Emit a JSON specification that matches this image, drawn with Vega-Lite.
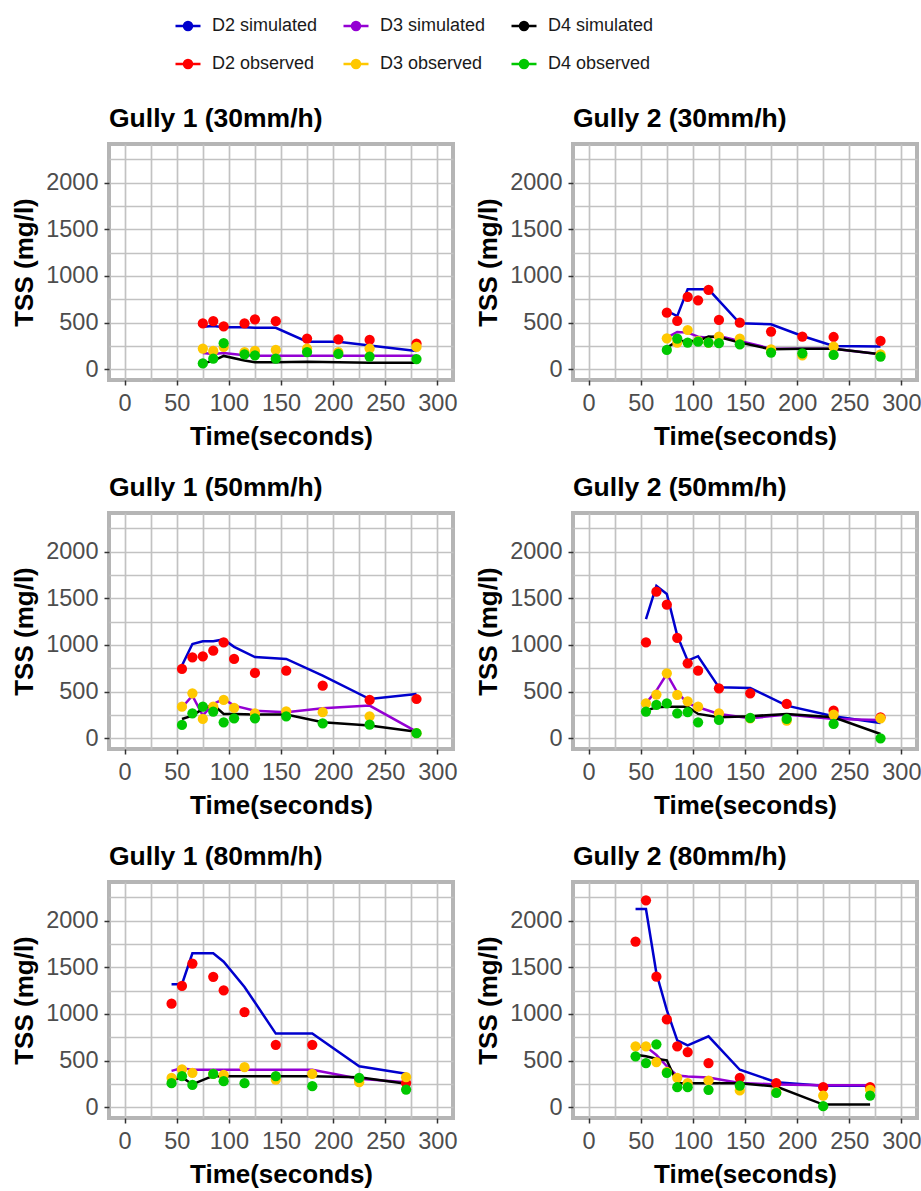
{
  "$schema": "https://vega.github.io/schema/vega-lite/v6.json",
  "background": "white",
  "padding": {"left": 9, "top": 12, "right": 5, "bottom": 5},
  "data": {"values": [
    {"p":"Gully 1 (30mm/h)","t":75,"D2 simulated":455,"D2 observed":492,"D3 simulated":175,"D3 observed":222,"D4 simulated":65,"D4 observed":62},
    {"p":"Gully 1 (30mm/h)","t":85,"D2 simulated":465,"D2 observed":517,"D3 simulated":165,"D3 observed":196,"D4 simulated":90,"D4 observed":114},
    {"p":"Gully 1 (30mm/h)","t":95,"D2 simulated":450,"D2 observed":460,"D3 simulated":175,"D3 observed":240,"D4 simulated":143,"D4 observed":280},
    {"p":"Gully 1 (30mm/h)","t":115,"D2 simulated":450,"D2 observed":492,"D3 simulated":150,"D3 observed":185,"D4 simulated":95,"D4 observed":161},
    {"p":"Gully 1 (30mm/h)","t":125,"D2 simulated":445,"D2 observed":535,"D3 simulated":145,"D3 observed":196,"D4 simulated":75,"D4 observed":150},
    {"p":"Gully 1 (30mm/h)","t":145,"D2 simulated":445,"D2 observed":515,"D3 simulated":145,"D3 observed":207,"D4 simulated":75,"D4 observed":114},
    {"p":"Gully 1 (30mm/h)","t":175,"D2 simulated":295,"D2 observed":329,"D3 simulated":145,"D3 observed":222,"D4 simulated":80,"D4 observed":185},
    {"p":"Gully 1 (30mm/h)","t":205,"D2 simulated":295,"D2 observed":321,"D3 simulated":145,"D3 observed":185,"D4 simulated":75,"D4 observed":165},
    {"p":"Gully 1 (30mm/h)","t":235,"D2 simulated":255,"D2 observed":314,"D3 simulated":145,"D3 observed":222,"D4 simulated":70,"D4 observed":136},
    {"p":"Gully 1 (30mm/h)","t":280,"D2 simulated":196,"D2 observed":275,"D3 simulated":145,"D3 observed":240,"D4 simulated":70,"D4 observed":110},

    {"p":"Gully 2 (30mm/h)","t":75,"D2 simulated":625,"D2 observed":607,"D3 simulated":339,"D3 observed":332,"D4 simulated":230,"D4 observed":207},
    {"p":"Gully 2 (30mm/h)","t":85,"D2 simulated":570,"D2 observed":518,"D3 simulated":400,"D3 observed":286,"D4 simulated":304,"D4 observed":329},
    {"p":"Gully 2 (30mm/h)","t":95,"D2 simulated":857,"D2 observed":775,"D3 simulated":393,"D3 observed":421,"D4 simulated":304,"D4 observed":286},
    {"p":"Gully 2 (30mm/h)","t":105,"D2 simulated":857,"D2 observed":739,"D3 simulated":350,"D3 observed":304,"D4 simulated":304,"D4 observed":296},
    {"p":"Gully 2 (30mm/h)","t":115,"D2 simulated":857,"D2 observed":850,"D3 simulated":339,"D3 observed":286,"D4 simulated":350,"D4 observed":286},
    {"p":"Gully 2 (30mm/h)","t":125,"D2 simulated":735,"D2 observed":529,"D3 simulated":357,"D3 observed":350,"D4 simulated":345,"D4 observed":279},
    {"p":"Gully 2 (30mm/h)","t":145,"D2 simulated":493,"D2 observed":500,"D3 simulated":304,"D3 observed":329,"D4 simulated":286,"D4 observed":268},
    {"p":"Gully 2 (30mm/h)","t":175,"D2 simulated":482,"D2 observed":404,"D3 simulated":221,"D3 observed":214,"D4 simulated":214,"D4 observed":179},
    {"p":"Gully 2 (30mm/h)","t":205,"D2 simulated":357,"D2 observed":350,"D3 simulated":221,"D3 observed":150,"D4 simulated":221,"D4 observed":171},
    {"p":"Gully 2 (30mm/h)","t":235,"D2 simulated":250,"D2 observed":346,"D3 simulated":221,"D3 observed":243,"D4 simulated":221,"D4 observed":154},
    {"p":"Gully 2 (30mm/h)","t":280,"D2 simulated":243,"D2 observed":304,"D3 simulated":161,"D3 observed":161,"D4 simulated":161,"D4 observed":136},

    {"p":"Gully 1 (50mm/h)","t":55,"D2 simulated":780,"D2 observed":743,"D3 simulated":330,"D3 observed":339,"D4 simulated":207,"D4 observed":143},
    {"p":"Gully 1 (50mm/h)","t":65,"D2 simulated":1010,"D2 observed":868,"D3 simulated":457,"D3 observed":482,"D4 simulated":243,"D4 observed":268},
    {"p":"Gully 1 (50mm/h)","t":75,"D2 simulated":1040,"D2 observed":879,"D3 simulated":243,"D3 observed":207,"D4 simulated":314,"D4 observed":339},
    {"p":"Gully 1 (50mm/h)","t":85,"D2 simulated":1040,"D2 observed":939,"D3 simulated":368,"D3 observed":339,"D4 simulated":361,"D4 observed":286},
    {"p":"Gully 1 (50mm/h)","t":95,"D2 simulated":1060,"D2 observed":1028,"D3 simulated":421,"D3 observed":411,"D4 simulated":261,"D4 observed":171},
    {"p":"Gully 1 (50mm/h)","t":105,"D2 simulated":980,"D2 observed":850,"D3 simulated":350,"D3 observed":325,"D4 simulated":261,"D4 observed":214},
    {"p":"Gully 1 (50mm/h)","t":125,"D2 simulated":870,"D2 observed":700,"D3 simulated":296,"D3 observed":268,"D4 simulated":254,"D4 observed":214},
    {"p":"Gully 1 (50mm/h)","t":155,"D2 simulated":850,"D2 observed":725,"D3 simulated":279,"D3 observed":289,"D4 simulated":254,"D4 observed":236},
    {"p":"Gully 1 (50mm/h)","t":190,"D2 simulated":671,"D2 observed":564,"D3 simulated":321,"D3 observed":279,"D4 simulated":171,"D4 observed":161},
    {"p":"Gully 1 (50mm/h)","t":235,"D2 simulated":421,"D2 observed":411,"D3 simulated":350,"D3 observed":236,"D4 simulated":136,"D4 observed":146},
    {"p":"Gully 1 (50mm/h)","t":280,"D2 simulated":475,"D2 observed":421,"D3 simulated":71,"D3 observed":54,"D4 simulated":71,"D4 observed":54},

    {"p":"Gully 2 (50mm/h)","t":55,"D2 simulated":1278,"D2 observed":1028,"D3 simulated":375,"D3 observed":375,"D4 simulated":296,"D4 observed":286},
    {"p":"Gully 2 (50mm/h)","t":65,"D2 simulated":1635,"D2 observed":1571,"D3 simulated":511,"D3 observed":468,"D4 simulated":332,"D4 observed":357},
    {"p":"Gully 2 (50mm/h)","t":75,"D2 simulated":1546,"D2 observed":1432,"D3 simulated":689,"D3 observed":696,"D4 simulated":339,"D4 observed":375},
    {"p":"Gully 2 (50mm/h)","t":85,"D2 simulated":1100,"D2 observed":1075,"D3 simulated":493,"D3 observed":464,"D4 simulated":339,"D4 observed":268},
    {"p":"Gully 2 (50mm/h)","t":95,"D2 simulated":832,"D2 observed":803,"D3 simulated":375,"D3 observed":396,"D4 simulated":339,"D4 observed":279},
    {"p":"Gully 2 (50mm/h)","t":105,"D2 simulated":880,"D2 observed":725,"D3 simulated":332,"D3 observed":339,"D4 simulated":261,"D4 observed":171},
    {"p":"Gully 2 (50mm/h)","t":125,"D2 simulated":546,"D2 observed":536,"D3 simulated":261,"D3 observed":268,"D4 simulated":225,"D4 observed":196},
    {"p":"Gully 2 (50mm/h)","t":155,"D2 simulated":539,"D2 observed":482,"D3 simulated":214,"D3 observed":214,"D4 simulated":236,"D4 observed":218},
    {"p":"Gully 2 (50mm/h)","t":190,"D2 simulated":350,"D2 observed":368,"D3 simulated":254,"D3 observed":189,"D4 simulated":261,"D4 observed":207},
    {"p":"Gully 2 (50mm/h)","t":235,"D2 simulated":236,"D2 observed":296,"D3 simulated":207,"D3 observed":254,"D4 simulated":225,"D4 observed":154},
    {"p":"Gully 2 (50mm/h)","t":280,"D2 simulated":164,"D2 observed":225,"D3 simulated":196,"D3 observed":214,"D4 simulated":46,"D4 observed":0},

    {"p":"Gully 1 (80mm/h)","t":45,"D2 simulated":1320,"D2 observed":1111,"D3 simulated":390,"D3 observed":315,"D4 simulated":287,"D4 observed":258},
    {"p":"Gully 1 (80mm/h)","t":55,"D2 simulated":1320,"D2 observed":1301,"D3 simulated":420,"D3 observed":405,"D4 simulated":323,"D4 observed":333},
    {"p":"Gully 1 (80mm/h)","t":65,"D2 simulated":1650,"D2 observed":1541,"D3 simulated":401,"D3 observed":369,"D4 simulated":245,"D4 observed":240},
    {"p":"Gully 1 (80mm/h)","t":80,"D4 simulated":315},
    {"p":"Gully 1 (80mm/h)","t":85,"D2 simulated":1650,"D2 observed":1398,"D3 simulated":401,"D3 observed":358,"D4 simulated":333,"D4 observed":358},
    {"p":"Gully 1 (80mm/h)","t":95,"D2 simulated":1560,"D2 observed":1254,"D3 simulated":401,"D3 observed":348,"D4 simulated":333,"D4 observed":280},
    {"p":"Gully 1 (80mm/h)","t":115,"D2 simulated":1290,"D2 observed":1021,"D3 simulated":401,"D3 observed":430,"D4 simulated":333,"D4 observed":258},
    {"p":"Gully 1 (80mm/h)","t":145,"D2 simulated":790,"D2 observed":670,"D3 simulated":401,"D3 observed":297,"D4 simulated":333,"D4 observed":333},
    {"p":"Gully 1 (80mm/h)","t":180,"D2 simulated":790,"D2 observed":670,"D3 simulated":401,"D3 observed":358,"D4 simulated":333,"D4 observed":226},
    {"p":"Gully 1 (80mm/h)","t":225,"D2 simulated":440,"D2 observed":300,"D3 simulated":305,"D3 observed":269,"D4 simulated":323,"D4 observed":315},
    {"p":"Gully 1 (80mm/h)","t":270,"D2 simulated":360,"D2 observed":260,"D3 simulated":269,"D3 observed":323,"D4 simulated":251,"D4 observed":190},

    {"p":"Gully 2 (80mm/h)","t":45,"D2 simulated":2125,"D2 observed":1777,"D3 simulated":650,"D3 observed":653,"D4 simulated":564,"D4 observed":546},
    {"p":"Gully 2 (80mm/h)","t":55,"D2 simulated":2125,"D2 observed":2219,"D3 simulated":650,"D3 observed":653,"D4 simulated":546,"D4 observed":474},
    {"p":"Gully 2 (80mm/h)","t":65,"D2 simulated":1436,"D2 observed":1400,"D3 simulated":560,"D3 observed":485,"D4 simulated":521,"D4 observed":675},
    {"p":"Gully 2 (80mm/h)","t":75,"D2 simulated":1041,"D2 observed":941,"D3 simulated":440,"D3 observed":380,"D4 simulated":503,"D4 observed":370},
    {"p":"Gully 2 (80mm/h)","t":85,"D2 simulated":718,"D2 observed":653,"D3 simulated":340,"D3 observed":316,"D4 simulated":258,"D4 observed":215},
    {"p":"Gully 2 (80mm/h)","t":95,"D2 simulated":664,"D2 observed":592,"D3 simulated":330,"D3 observed":258,"D4 simulated":258,"D4 observed":215},
    {"p":"Gully 2 (80mm/h)","t":115,"D2 simulated":761,"D2 observed":474,"D3 simulated":320,"D3 observed":287,"D4 simulated":258,"D4 observed":187},
    {"p":"Gully 2 (80mm/h)","t":145,"D2 simulated":402,"D2 observed":316,"D3 simulated":260,"D3 observed":180,"D4 simulated":258,"D4 observed":233},
    {"p":"Gully 2 (80mm/h)","t":180,"D2 simulated":269,"D2 observed":258,"D3 simulated":245,"D3 observed":162,"D4 simulated":222,"D4 observed":154},
    {"p":"Gully 2 (80mm/h)","t":225,"D2 simulated":230,"D2 observed":215,"D3 simulated":235,"D3 observed":126,"D4 simulated":29,"D4 observed":11},
    {"p":"Gully 2 (80mm/h)","t":270,"D2 simulated":230,"D2 observed":215,"D3 simulated":235,"D3 observed":187,"D4 simulated":29,"D4 observed":126}
  ]},
  "transform": [
    {"fold": ["D2 simulated","D3 simulated","D4 simulated","D2 observed","D3 observed","D4 observed"], "as": ["series","tss"]},
    {"filter": "isValid(datum.tss)"}
  ],
  "facet": {
    "field": "p", "type": "nominal",
    "sort": ["Gully 1 (30mm/h)","Gully 2 (30mm/h)","Gully 1 (50mm/h)","Gully 2 (50mm/h)","Gully 1 (80mm/h)","Gully 2 (80mm/h)"],
    "header": {"title": null, "labelAnchor": "start", "labelFont": "Liberation Sans", "labelFontSize": 26.5, "labelFontWeight": "bold", "labelColor": "black", "labelPadding": 12}
  },
  "columns": 2,
  "spacing": {"row": 133, "column": 120},
  "bounds": "flush",
  "resolve": {"axis": {"x": "independent", "y": "independent"}},
  "spec": {
    "width": 344,
    "height": 236,
    "encoding": {
      "x": {"field": "t", "type": "quantitative",
        "scale": {"domain": [-15, 315], "nice": false, "zero": false},
        "axis": {"title": "Time(seconds)", "values": [0,25,50,75,100,125,150,175,200,225,250,275,300],
          "labelExpr": "datum.value % 50 === 0 ? datum.label : ''",
          "tickOpacity": {"condition": {"test": "datum.value % 50 === 0", "value": 1}, "value": 0},
          "grid": true, "gridColor": "#c2c2c2", "gridWidth": 1.7, "domain": false,
          "tickColor": "#333333", "tickWidth": 1.5, "tickSize": 5,
          "labelFont": "Liberation Sans", "labelFontSize": 23.5, "labelColor": "#4d4d4d", "labelPadding": 6,
          "labelOverlap": false, "labelFlush": false,
          "titleFont": "Liberation Sans", "titleFontSize": 26, "titleFontWeight": "bold", "titleColor": "black", "titlePadding": 9}},
      "y": {"field": "tss", "type": "quantitative",
        "scale": {"domain": [-115, 2415], "nice": false, "zero": false},
        "axis": {"title": "TSS (mg/l)", "values": [0,250,500,750,1000,1250,1500,1750,2000,2250],
          "labelExpr": "datum.value % 500 === 0 ? datum.label : ''",
          "tickOpacity": {"condition": {"test": "datum.value % 500 === 0", "value": 1}, "value": 0},
          "grid": true, "gridColor": "#c2c2c2", "gridWidth": 1.7, "domain": false,
          "tickColor": "#333333", "tickWidth": 1.5, "tickSize": 5, "format": "d",
          "labelFont": "Liberation Sans", "labelFontSize": 23.5, "labelColor": "#4d4d4d", "labelPadding": 6,
          "labelOverlap": false, "labelFlush": false,
          "titleFont": "Liberation Sans", "titleFontSize": 26, "titleFontWeight": "bold", "titleColor": "black", "titlePadding": 8}},
      "color": {"field": "series", "type": "nominal",
        "scale": {"domain": ["D2 simulated","D3 simulated","D4 simulated","D2 observed","D3 observed","D4 observed"],
                  "range": ["#0000CD","#9400D3","#000000","#FF0000","#FFC800","#00C800"]},
        "legend": {"title": null, "orient": "none", "legendX": 65, "legendY": -132, "columns": 3, "direction": "horizontal",
          "symbolType": "M-1,0L1,0M-0.32,0A0.32,0.32,0,1,1,0.32,0A0.32,0.32,0,1,1,-0.32,0Z",
          "symbolSize": 625, "symbolStrokeWidth": 2.5,
          "labelFont": "Liberation Sans", "labelFontSize": 18, "labelColor": "#1a1a1a", "labelOffset": 10,
          "columnPadding": 20, "rowPadding": 15,
          "encode": {"symbols": {"update": {
            "fill": {"scale": "color", "field": "value"},
            "stroke": {"scale": "color", "field": "value"},
            "strokeWidth": {"value": 2.5}, "opacity": {"value": 1}, "fillOpacity": {"value": 1}}}}}}
    },
    "layer": [
      {"transform": [{"filter": "indexof(datum.series, 'simulated') >= 0"}],
       "mark": {"type": "line", "strokeWidth": 2.5}},
      {"transform": [{"filter": "indexof(datum.series, 'observed') >= 0"}],
       "mark": {"type": "point", "filled": true, "size": 105, "opacity": 1}}
    ]
  },
  "config": {
    "view": {"stroke": "#b5b5b5", "strokeWidth": 4},
    "font": "Liberation Sans"
  }
}
